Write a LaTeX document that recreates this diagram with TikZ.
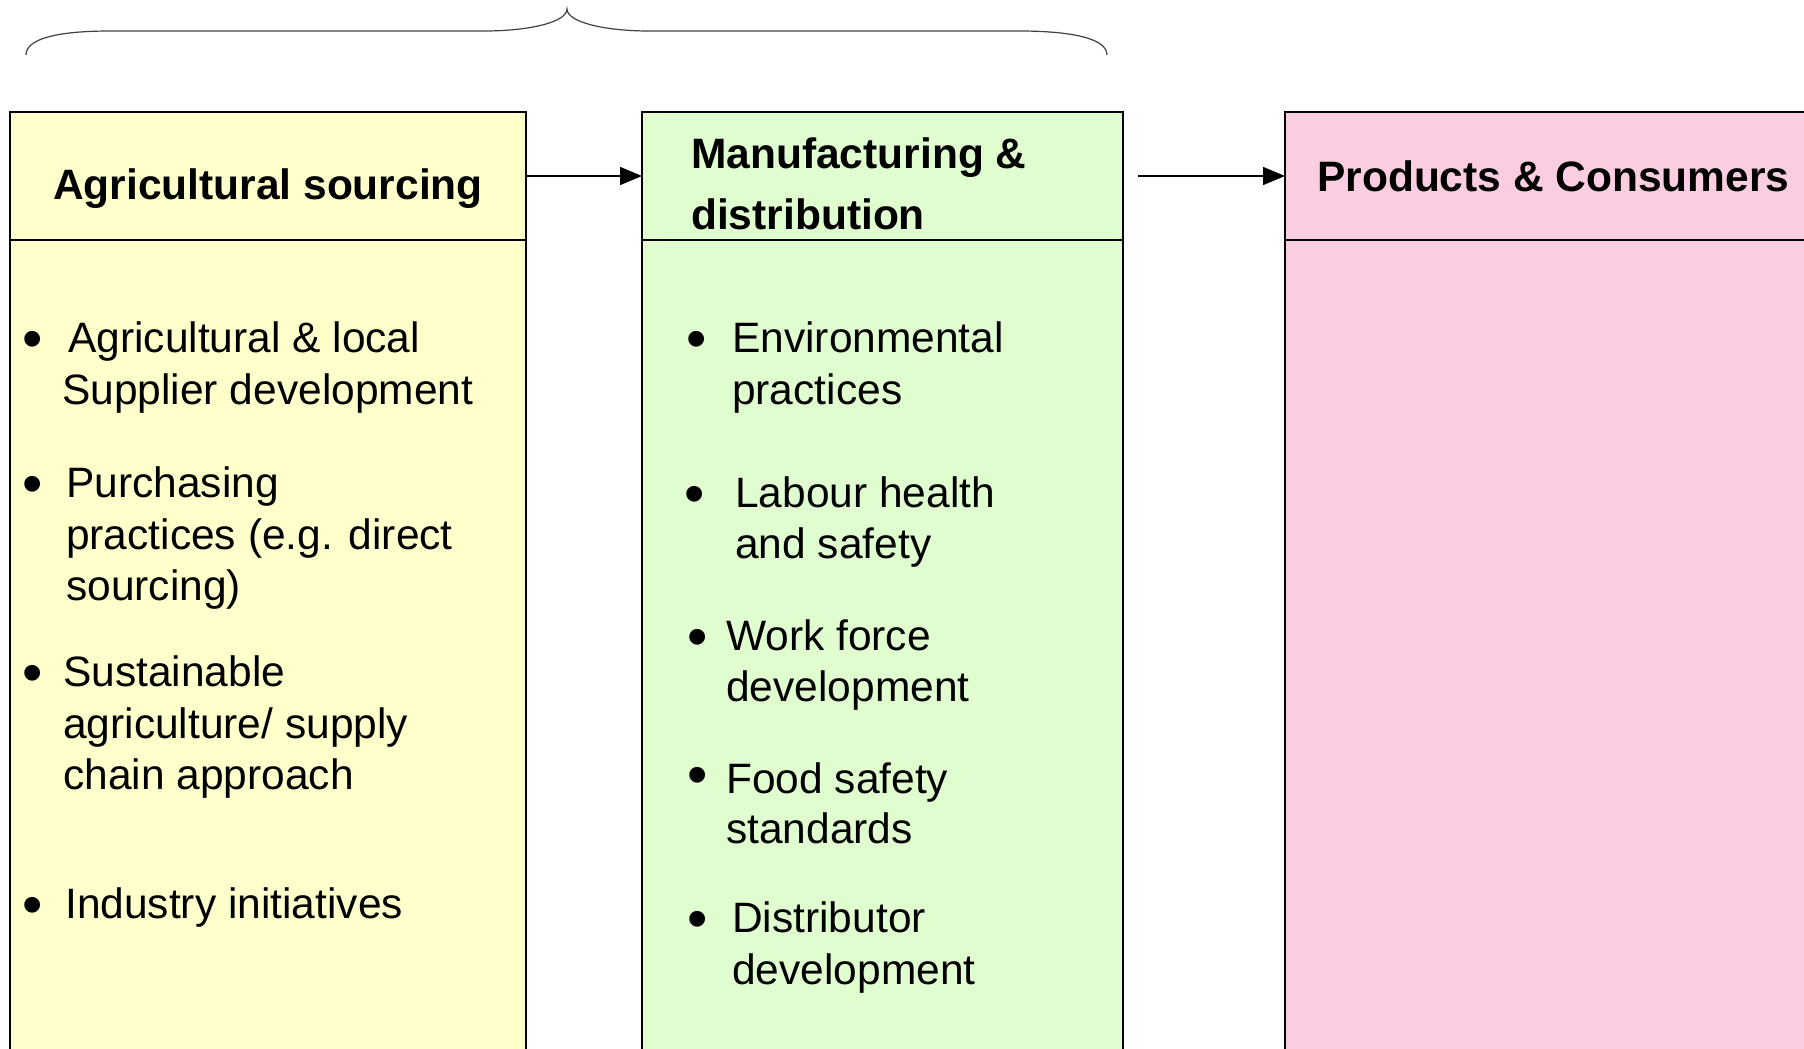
\documentclass[tikz,border=0pt]{standalone}
\usepackage{fontspec}
\setmainfont{Liberation Sans}
\usetikzlibrary{arrows.meta}
\definecolor{agrifill}{HTML}{FFFFCC}
\definecolor{manufill}{HTML}{E0FDD0}
\definecolor{prodfill}{HTML}{FBCDE1}
\begin{document}
\begin{tikzpicture}[x=1pt,y=-1pt,
  panel/.style={draw=black,line width=2pt,inner sep=0pt,outer sep=0pt,anchor=north west},
  head/.style={font=\fontsize{42.5}{52}\selectfont\bfseries,inner sep=0pt,anchor=base west},
  item/.style={font=\fontsize{42.5}{52}\selectfont,inner sep=0pt,anchor=base west},
  bul/.style={font=\fontsize{58}{60}\selectfont,inner sep=0pt,anchor=base,yshift=-6pt},
  flow/.style={line width=1.5pt,-{Triangle[length=22pt,width=18pt]}},
  brace/.style={draw=black!75,line width=1.2pt}]
\useasboundingbox (0,0) rectangle (1804,1049);
\clip (0,0) rectangle (1804,1049);

% column bodies
\node[panel,fill=agrifill,minimum width=516,minimum height=830] (agribody) at (10,240) {};
\node[panel,fill=manufill,minimum width=481,minimum height=830] (manubody) at (642,240) {};
\node[panel,fill=prodfill,minimum width=560,minimum height=830] (prodbody) at (1285,240) {};

% column headers
\node[panel,fill=agrifill,minimum width=516,minimum height=128] (agrihead) at (10,112) {};
\node[panel,fill=manufill,minimum width=481,minimum height=128] (manuhead) at (642,112) {};
\node[panel,fill=prodfill,minimum width=560,minimum height=128] (prodhead) at (1285,112) {};

% flow between stages
\draw[flow] (agrihead.east) -- (manuhead.west);
\draw[flow] ([xshift=15pt]manuhead.east) -- (prodhead.west);

% curly brace over the first two stages
\draw[brace] (26,55) .. controls (26,38) and (60,31) .. (110,31) -- (484,31)
  .. controls (530,31) and (567,22) .. (567,9)
  .. controls (567,22) and (604,31) .. (649,31) -- (1019,31)
  .. controls (1070,31) and (1107,38) .. (1107,55);

% header titles
\node[head,anchor=base] (agrititle) at (268,199) {Agricultural sourcing};
\node[head] (manutitle1) at (691,168) {Manufacturing \&};
\node[head] (manutitle2) at (691,229) {distribution};
\node[head] (prodtitle) at (1317,191) {Products \& Consumers};

% agricultural sourcing items
\node[bul] (ab1) at (33,352) {•};
\node[item] (a1a) at (68,352) {Agricultural \& local};
\node[item] (a1b) at (62,404) {Supplier development};
\node[bul] (ab2) at (33,497) {•};
\node[item] (a2a) at (66,497) {Purchasing};
\node[item] (a2b) at (66,549) {practices (e.g. direct};
\node[item] (a2c) at (66,600) {sourcing)};
\node[bul] (ab3) at (33,686) {•};
\node[item] (a3a) at (63,686) {Sustainable};
\node[item] (a3b) at (63,738) {agriculture/ supply};
\node[item] (a3c) at (63,789) {chain approach};
\node[bul] (ab4) at (33,918) {•};
\node[item] (a4a) at (65,918) {Industry initiatives};

% manufacturing & distribution items
\node[bul] (mb1) at (697,352) {•};
\node[item] (m1a) at (732,352) {Environmental};
\node[item] (m1b) at (732,404) {practices};
\node[bul] (mb2) at (695,507) {•};
\node[item] (m2a) at (735,507) {Labour health};
\node[item] (m2b) at (735,558) {and safety};
\node[bul] (mb3) at (698,650) {•};
\node[item] (m3a) at (726,650) {Work force};
\node[item] (m3b) at (726,701) {development};
\node[bul] (mb4) at (698,788) {•};
\node[item] (m4a) at (726,793) {Food safety};
\node[item] (m4b) at (726,843) {standards};
\node[bul] (mb5) at (698,932) {•};
\node[item] (m5a) at (732,932) {Distributor};
\node[item] (m5b) at (732,984) {development};
\end{tikzpicture}
\end{document}
